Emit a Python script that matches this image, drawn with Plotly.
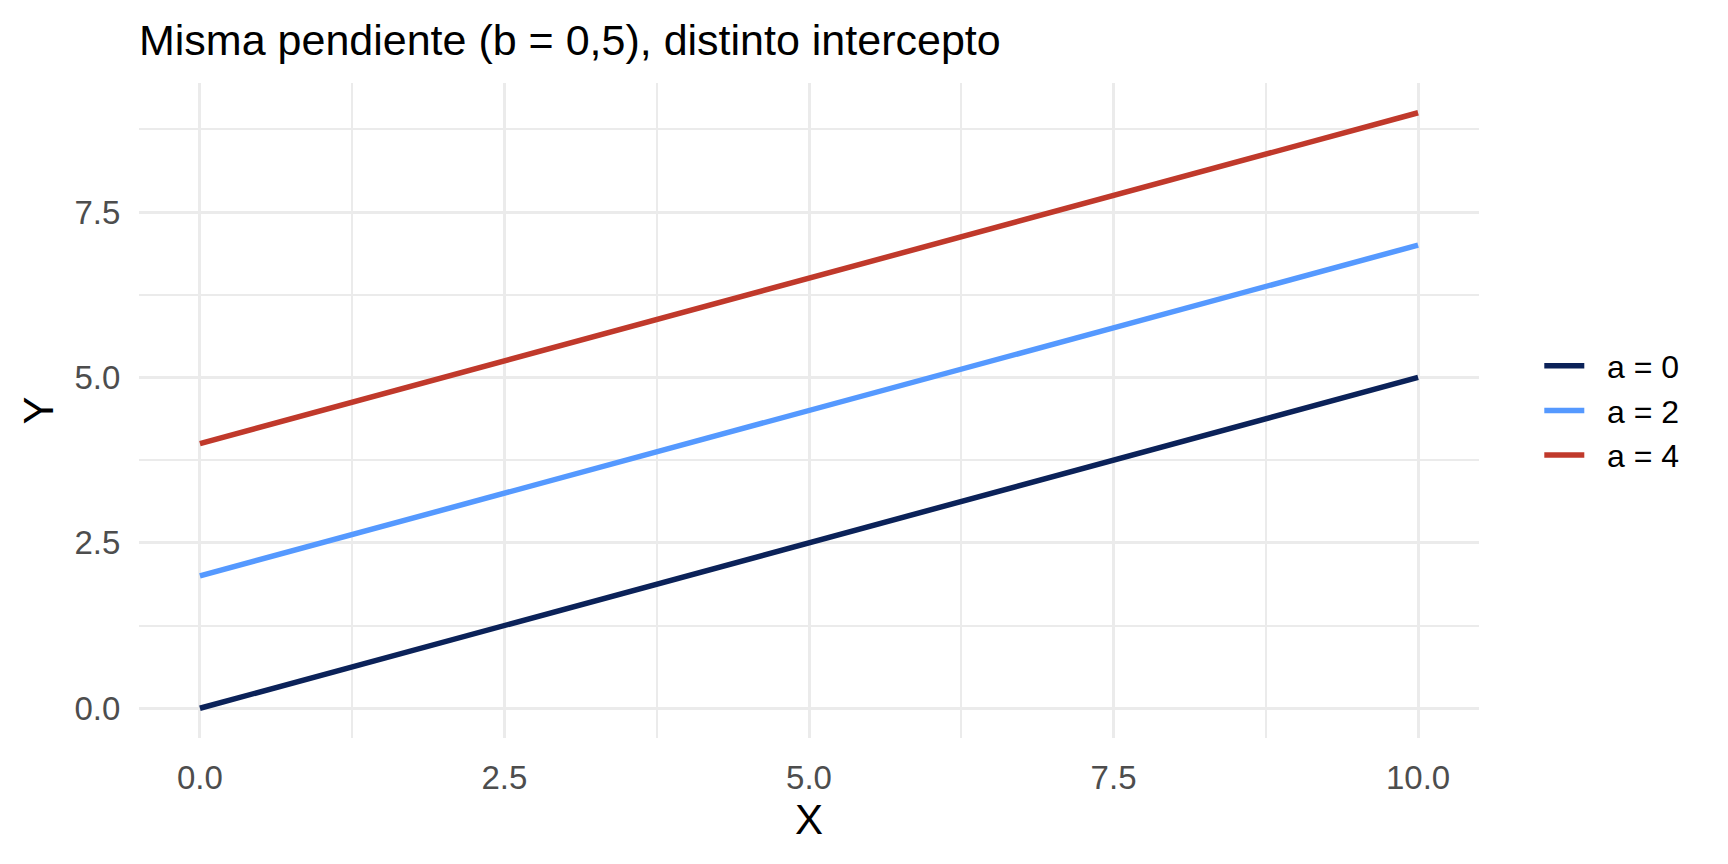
import plotly.graph_objects as go

x_values = [0, 2.5, 5, 7.5, 10]
series_names = ["a = 0", "a = 2", "a = 4"]
y_a0 = [0, 1.25, 2.5, 3.75, 5]
y_a2 = [2, 3.25, 4.5, 5.75, 7]
y_a4 = [4, 5.25, 6.5, 7.75, 9]
series_values = [y_a0, y_a2, y_a4]
colors = ["#0B2259", "#5599FF", "#C0392B"]
x_ticks = [0, 2.5, 5, 7.5, 10]
y_ticks = [0, 2.5, 5, 7.5]

FONT = "Liberation Sans"
NBSP = "\u00a0"
fig = go.Figure()
for i, (name, ys, c) in enumerate(zip(series_names, series_values, colors)):
    fig.add_trace(go.Scatter(x=x_values, y=ys, mode="lines", name=NBSP * 2 + name,
                             line=dict(color=c, width=5.5), legendgroup=f"g{i}"))

# page body has an 8px margin; figure is sized/offset to compensate
W, H = 1720, 856
grid = "#EBEBEB"
fig.update_layout(
    width=W, height=H,
    paper_bgcolor="white", plot_bgcolor="white",
    margin=dict(l=131, r=249, t=75, b=126),
    font=dict(family=FONT, color="black"),
    title=dict(text="Misma pendiente (b = 0,5), distinto intercepto",
               font=dict(size=43, family=FONT, color="black"),
               x=0, xref="paper", xanchor="left",
               y=1 - 32 / H, yref="container", yanchor="middle"),
    showlegend=True,
    legend=dict(x=1.045, xanchor="left", y=0.5, yanchor="middle",
                font=dict(size=32, family=FONT, color="black"),
                itemwidth=40, tracegroupgap=0, bgcolor="rgba(0,0,0,0)"),
    xaxis=dict(range=[-0.5, 10.5], tickvals=x_ticks, tickformat=".1f",
               showgrid=True, gridcolor=grid, gridwidth=3, zeroline=False,
               minor=dict(dtick=1.25, tick0=0, showgrid=True, gridcolor=grid, gridwidth=1.5),
               ticks="outside", ticklen=10, tickcolor="rgba(0,0,0,0)",
               tickfont=dict(size=33, family=FONT, color="#4D4D4D"),
               title=dict(text="X", font=dict(size=42, family=FONT, color="black"), standoff=5),
               showline=False, fixedrange=True),
    yaxis=dict(range=[-0.45, 9.45], tickvals=y_ticks, tickformat=".1f",
               showgrid=True, gridcolor=grid, gridwidth=3, zeroline=False,
               minor=dict(dtick=1.25, tick0=0, showgrid=True, gridcolor=grid, gridwidth=1.5),
               ticks="outside", ticklen=11, tickcolor="rgba(0,0,0,0)",
               tickfont=dict(size=33, family=FONT, color="#4D4D4D"),
               title=dict(text="Y", font=dict(size=42, family=FONT, color="black"), standoff=7),
               showline=False, fixedrange=True),
)
fig.write_html("out.html")
